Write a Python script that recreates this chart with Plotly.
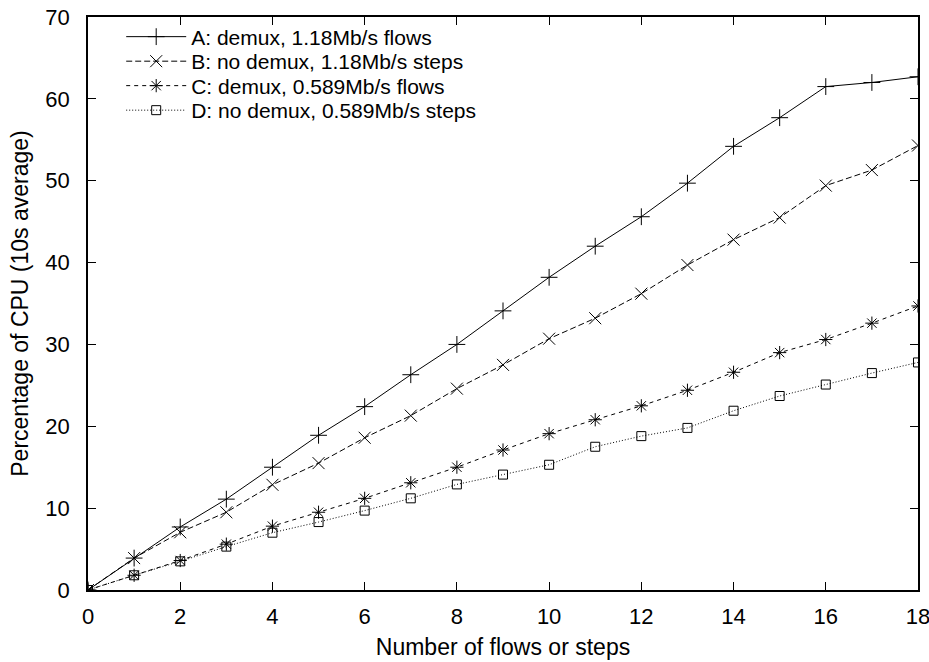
import plotly.graph_objects as go

x = list(range(19))
a_vals = [0, 3.9, 7.7, 11.1, 15.0, 18.9, 22.4, 26.3, 30.0, 34.1, 38.2, 42.0, 45.6, 49.7, 54.2, 57.7, 61.5, 62.0, 62.7]
b_vals = [0, 3.9, 7.05, 9.5, 12.85, 15.5, 18.6, 21.3, 24.6, 27.5, 30.7, 33.2, 36.2, 39.7, 42.8, 45.5, 49.4, 51.3, 54.3]
c_vals = [0, 1.8, 3.6, 5.6, 7.8, 9.5, 11.2, 13.1, 15.0, 17.1, 19.1, 20.8, 22.5, 24.4, 26.6, 29.0, 30.6, 32.6, 34.7]
d_vals = [0, 1.8, 3.5, 5.3, 7.0, 8.3, 9.7, 11.2, 12.9, 14.1, 15.3, 17.5, 18.8, 19.8, 21.9, 23.7, 25.1, 26.5, 27.8]

names = ["A: demux, 1.18Mb/s flows", "B: no demux, 1.18Mb/s steps",
         "C: demux, 0.589Mb/s flows", "D: no demux, 0.589Mb/s steps"]
series = [a_vals, b_vals, c_vals, d_vals]
dashes = ["solid", "6px,3px", "4px,4px", "1px,2px"]
symbols = ["cross-thin-open", "x-thin-open", "asterisk-open", "square-open"]
sizes = [12, 12, 11, 9]
legend_ids = ["legend", "legend2", "legend3", "legend4"]
legend_y = [0.9651, 0.9223, 0.8796, 0.8368]

font = "Liberation Sans, Arial, Helvetica, sans-serif"
title_font = dict(family=font, size=23, color="black")

fig = go.Figure()
for n, s, d, sym, sz, lg in zip(names, series, dashes, symbols, sizes, legend_ids):
    fig.add_trace(go.Scatter(
        x=x, y=s, name=n, mode="lines+markers", legend=lg,
        line=dict(color="black", width=1, dash=d),
        marker=dict(symbol=sym, size=sz, color="black",
                    line=dict(color="black", width=1)),
    ))

legend_common = dict(x=0.040, xanchor="left", yanchor="middle",
                     bgcolor="rgba(0,0,0,0)",
                     font=dict(family=font, size=21, color="black"),
                     itemwidth=60, borderwidth=0)
layout_legends = {}
for lg, ly in zip(legend_ids, legend_y):
    layout_legends[lg] = dict(legend_common, y=ly)

fig.update_layout(
    width=929, height=662,
    margin=dict(l=88, r=11, t=17, b=72),
    paper_bgcolor="white", plot_bgcolor="white",
    font=dict(family=font, size=23, color="black"),
    showlegend=True,
    **layout_legends,
    xaxis=dict(range=[0, 18], tickmode="array", tickvals=list(range(0, 19, 2)),
               ticks="inside", ticklen=8, tickcolor="black", tickwidth=1,
               mirror="ticks", automargin=False, ticklabeloverflow="allow",
               showline=True, linecolor="black", linewidth=1.5,
               showgrid=False, zeroline=False, ticklabelstandoff=6,
               title=dict(text="Number of flows or steps", standoff=11,
                          font=title_font),
               tickfont=dict(family=font, size=22, color="black")),
    yaxis=dict(range=[0, 70], tickmode="array", tickvals=list(range(0, 71, 10)),
               ticks="inside", ticklen=8, tickcolor="black", tickwidth=1,
               mirror="ticks", automargin=False, ticklabeloverflow="allow",
               showline=True, linecolor="black", linewidth=1.5,
               showgrid=False, zeroline=False, ticklabelstandoff=12,
               title=dict(text="Percentage of CPU (10s average)", standoff=10,
                          font=title_font),
               tickfont=dict(family=font, size=22, color="black")),
)
fig.write_html("out.html")
